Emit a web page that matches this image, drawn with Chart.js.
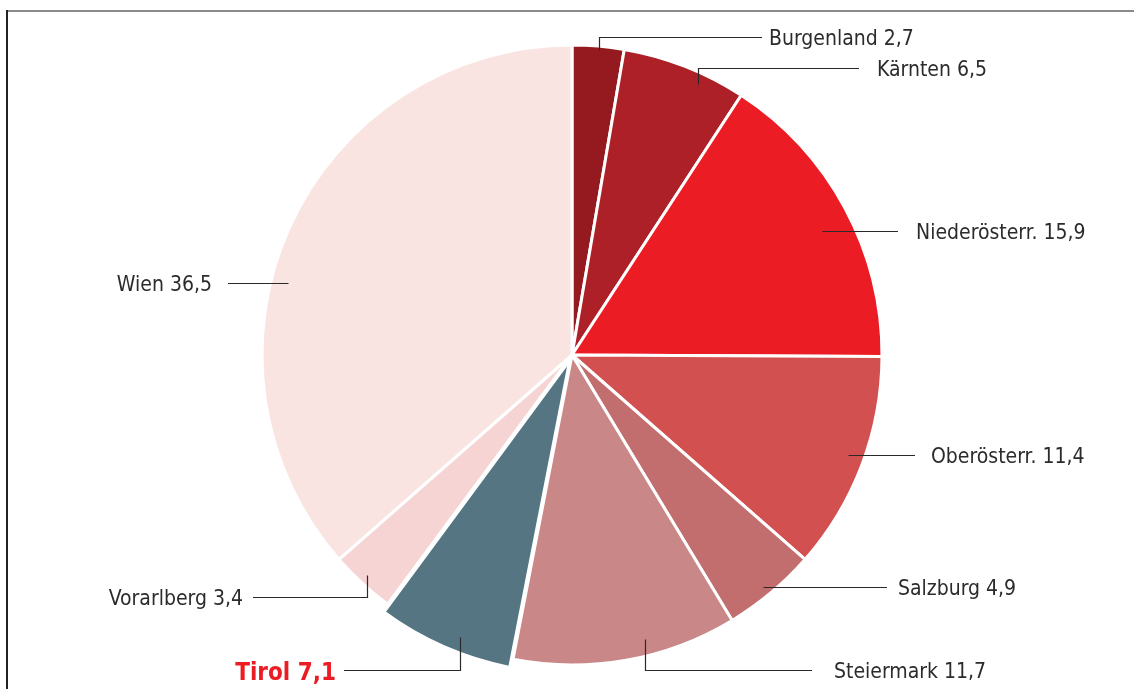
<!DOCTYPE html>
<html>
<head>
<meta charset="utf-8">
<script src="https://cdn.jsdelivr.net/npm/chart.js@4"></script>
<style>
  html, body { margin: 0; padding: 0; background: #ffffff; }
  #wrap { position: relative; width: 1134px; height: 689px; }
  #frameTop { position: absolute; left: 6px; top: 10px; width: 1128px; height: 0; border-top: 2px solid #8a8a8a; }
  #frameLeft { position: absolute; left: 6px; top: 10px; width: 0; height: 679px; border-left: 2px solid #222; }
  canvas { position: absolute; left: 0; top: 0; }
</style>
</head>
<body>
<div id="wrap">
  <canvas id="c" width="1134" height="689"></canvas>
  <div id="frameTop"></div>
  <div id="frameLeft"></div>
</div>
<script>
// ---- data ----
const categories = ['Burgenland', 'Kärnten', 'Niederösterr.', 'Oberösterr.', 'Salzburg', 'Steiermark', 'Tirol', 'Vorarlberg', 'Wien'];
const values = [2.7, 6.5, 15.9, 11.4, 4.9, 11.7, 7.1, 3.4, 36.5];
const valueLabels = ['2,7', '6,5', '15,9', '11,4', '4,9', '11,7', '7,1', '3,4', '36,5'];
const sliceColors = ['#951a1f', '#ae2028', '#ec1c24', '#d35050', '#c26e6e', '#c98787', '#557582', '#f6d4d3', '#fae4e2'];
const highlighted = ['Tirol'];

// ---- label layout (leader lines) ----
// t: position along the slice's angle (0..1), r: fraction of radius for the anchor
// mode 'v': vertical to levelY, then horizontal to lineEnd; 'h': horizontal to lineEnd
const labelLayout = [
  { t: 0.52, r: 0.987, mode: 'v', levelY: 37,  lineEnd: 762, textX: 769, align: 'left' },
  { t: 0.65, r: 0.964, mode: 'v', levelY: 68,  lineEnd: 859, textX: 877, align: 'left' },
  { t: 0.534, r: 0.90, mode: 'h', lineEnd: 898, textX: 916, align: 'left' },
  { t: 0.48, r: 0.948, mode: 'h', lineEnd: 915, textX: 931, align: 'left' },
  { t: 0.53, r: 0.97, mode: 'h', lineEnd: 887, textX: 898, align: 'left' },
  { t: 0.395, r: 0.945, mode: 'v', levelY: 670, lineEnd: 812, textX: 834, align: 'left' },
  { t: 0.42, r: 0.96, mode: 'v', levelY: 670, lineEnd: 344, textX: 336, align: 'right' },
  { t: 0.53, r: 0.968, mode: 'v', levelY: 597, lineEnd: 253, textX: 243, align: 'right' },
  { t: 0.423, r: 0.945, mode: 'h', lineEnd: 228, textX: 212, align: 'right' }
];

const FONT = '"DejaVu Sans Condensed", "DejaVu Sans", sans-serif';

const leaderPlugin = {
  id: 'leaders',
  afterDatasetsDraw(chart) {
    const ctx = chart.ctx;
    const meta = chart.getDatasetMeta(0);
    ctx.save();
    meta.data.forEach((arc, i) => {
      const lay = labelLayout[i];
      const p = arc.getProps(['x', 'y', 'startAngle', 'endAngle', 'outerRadius'], true);
      const off = (arc.options.offset || 0) / 4;
      const half = (p.startAngle + p.endAngle) / 2;
      const cx = p.x + Math.cos(half) * off;
      const cy = p.y + Math.sin(half) * off;
      const a = p.startAngle + lay.t * (p.endAngle - p.startAngle);
      const ax = Math.round(cx + Math.cos(a) * p.outerRadius * lay.r) + 0.5;
      const ay = Math.round(cy + Math.sin(a) * p.outerRadius * lay.r) + 0.5;
      ctx.strokeStyle = '#2a2a2a';
      ctx.lineWidth = 1.2;
      ctx.beginPath();
      ctx.moveTo(ax, ay);
      let ly;
      if (lay.mode === 'v') {
        ly = lay.levelY + 0.5;
        ctx.lineTo(ax, ly);
        ctx.lineTo(lay.lineEnd, ly);
      } else {
        ly = ay;
        ctx.lineTo(lay.lineEnd, ly);
      }
      ctx.stroke();
      const hi = highlighted.includes(categories[i]);
      ctx.font = hi ? 'bold 24px ' + FONT : '21px ' + FONT;
      ctx.fillStyle = hi ? '#ec1c24' : '#2b2b2b';
      ctx.textAlign = lay.align;
      ctx.textBaseline = 'alphabetic';
      ctx.fillText(categories[i] + ' ' + valueLabels[i], lay.textX, ly + (hi ? 9 : 7.5));
    });
    ctx.restore();
  }
};

new Chart(document.getElementById('c'), {
  type: 'pie',
  data: {
    labels: categories,
    datasets: [{
      data: values,
      backgroundColor: sliceColors,
      borderColor: '#ffffff',
      borderWidth: 3,
      offset: categories.map(c => highlighted.includes(c) ? 22 : 0)
    }]
  },
  options: {
    responsive: false,
    maintainAspectRatio: false,
    animation: false,
    radius: 310,
    layout: { padding: { left: 10, right: 0, top: 21, bottom: 0 } },
    plugins: { legend: { display: false }, tooltip: { enabled: false } }
  },
  plugins: [leaderPlugin]
});
</script>
</body>
</html>
